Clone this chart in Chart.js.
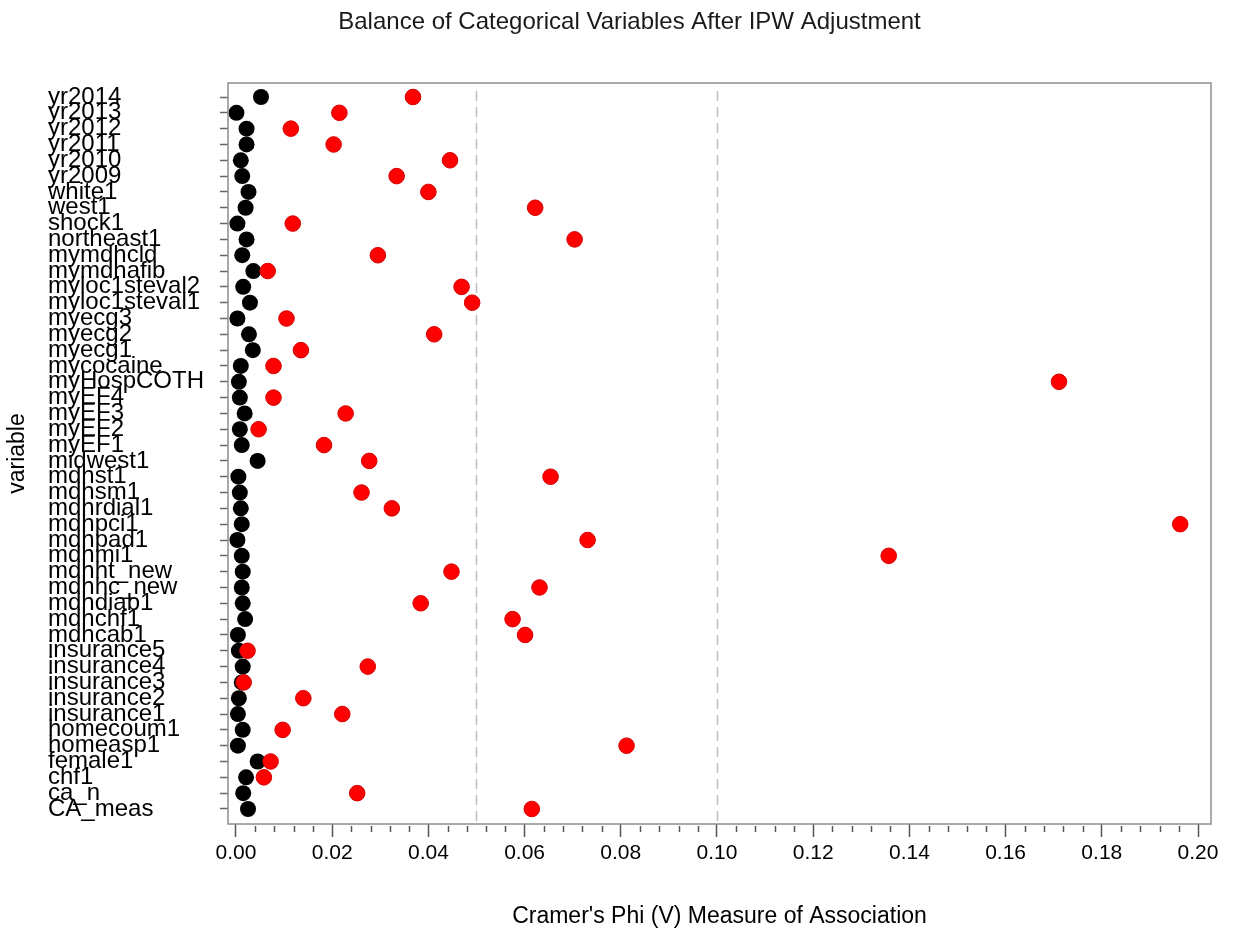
<!DOCTYPE html>
<html>
<head>
<meta charset="utf-8">
<title>Balance of Categorical Variables After IPW Adjustment</title>
<script src="https://cdn.jsdelivr.net/npm/chart.js@4/dist/chart.umd.min.js"></script>
<style>
  html, body { margin: 0; padding: 0; background: #fff; }
  #wrap { width: 1239px; height: 940px; }
</style>
</head>
<body>
<div id="wrap"><canvas id="chart" width="1239" height="940"></canvas></div>
<script>
// Variables, top to bottom
const variables = [
  'yr2014', 'yr2013', 'yr2012', 'yr2011', 'yr2010', 'yr2009', 'white1', 'west1',
  'shock1', 'northeast1', 'mymdhcld', 'mymdhafib', 'myloc1steval2', 'myloc1steval1',
  'myecg3', 'myecg2', 'myecg1', 'mycocaine', 'myHospCOTH', 'myEF4', 'myEF3', 'myEF2',
  'myEF1', 'midwest1', 'mdhst1', 'mdhsm1', 'mdhrdial1', 'mdhpci1', 'mdhpad1', 'mdhmi1',
  'mdhht_new', 'mdhhc_new', 'mdhdiab1', 'mdhchf1', 'mdhcab1', 'insurance5', 'insurance4',
  'insurance3', 'insurance2', 'insurance1', 'homecoum1', 'homeasp1', 'female1', 'chf1',
  'ca_n', 'CA_meas'
];

// Cramer's V after IPW weighting (black dots)
const afterIPW = [
  0.0052, 0.0001, 0.0022, 0.0022, 0.0010, 0.0013, 0.0026, 0.0020,
  0.0003, 0.0022, 0.0013, 0.0036, 0.0015, 0.0029,
  0.0003, 0.0027, 0.0035, 0.0010, 0.0006, 0.0008, 0.0018, 0.0008,
  0.0012, 0.0045, 0.0005, 0.0008, 0.0010, 0.0012, 0.0003, 0.0012,
  0.0014, 0.0012, 0.0014, 0.0019, 0.0004, 0.0006, 0.0014,
  0.0012, 0.0006, 0.0004, 0.0014, 0.0004, 0.0045, 0.0021,
  0.0015, 0.0025
];

// Cramer's V before adjustment (red dots)
const beforeIPW = [
  0.0368, 0.0215, 0.0114, 0.0203, 0.0445, 0.0334, 0.0400, 0.0622,
  0.0118, 0.0704, 0.0295, 0.0066, 0.0469, 0.0491,
  0.0105, 0.0412, 0.0135, 0.0078, 0.1711, 0.0078, 0.0228, 0.0047,
  0.0183, 0.0277, 0.0654, 0.0261, 0.0324, 0.1963, 0.0731, 0.1357,
  0.0448, 0.0631, 0.0384, 0.0575, 0.0601, 0.0024, 0.0274,
  0.0016, 0.0140, 0.0221, 0.0097, 0.0812, 0.0072, 0.0058,
  0.0252, 0.0615
];

// Axis ticks and reference thresholds
const xTicks = [0, 0.02, 0.04, 0.06, 0.08, 0.10, 0.12, 0.14, 0.16, 0.18, 0.20];
const minorPerStep = 4;
const refLines = [0.05, 0.10];

const FONT = '"Liberation Sans", Arial, Helvetica, sans-serif';
Chart.defaults.font.family = FONT;
Chart.defaults.color = '#000';

const toPoints = values => values.map((v, i) => ({ x: v, y: i }));

// Box, dashed thresholds, minor ticks and the rotated y title
const decorations = {
  id: 'decorations',
  beforeDatasetsDraw(chart) {
    const { ctx, chartArea: a, scales: { x } } = chart;
    ctx.save();
    ctx.strokeStyle = '#bfbfbf';
    ctx.lineWidth = 1.5;
    ctx.setLineDash([10, 6]);
    refLines.forEach(v => {
      const px = Math.round(x.getPixelForValue(v)) + 0.5;
      ctx.beginPath();
      ctx.moveTo(px, a.top + 8);
      ctx.lineTo(px, a.bottom);
      ctx.stroke();
    });
    ctx.restore();
  },
  afterDraw(chart) {
    const { ctx, chartArea: a, scales: { x } } = chart;
    ctx.save();

    // minor ticks between the labelled ones
    ctx.strokeStyle = '#555';
    ctx.lineWidth = 1.5;
    for (let i = 0; i < xTicks.length - 1; i++) {
      const step = (xTicks[i + 1] - xTicks[i]) / (minorPerStep + 1);
      for (let k = 1; k <= minorPerStep; k++) {
        const px = Math.round(x.getPixelForValue(xTicks[i] + k * step)) + 0.5;
        ctx.beginPath();
        ctx.moveTo(px, a.bottom + 2);
        ctx.lineTo(px, a.bottom + 8);
        ctx.stroke();
      }
    }

    // frame
    ctx.strokeStyle = '#8f8f8f';
    ctx.lineWidth = 1.5;
    ctx.strokeRect(a.left, a.top, a.right - a.left, a.bottom - a.top);

    // y axis title
    ctx.fillStyle = '#000';
    ctx.font = '23px ' + FONT;
    ctx.textAlign = 'center';
    ctx.textBaseline = 'middle';
    ctx.translate(18, (a.top + a.bottom) / 2);
    ctx.rotate(-Math.PI / 2);
    ctx.fillText('variable', 0, 0);
    ctx.restore();
  }
};

new Chart(document.getElementById('chart'), {
  type: 'scatter',
  data: {
    datasets: [
      {
        label: 'Before',
        data: toPoints(beforeIPW),
        backgroundColor: '#ff0000',
        borderColor: '#d40000',
        borderWidth: 1,
        pointRadius: 7.8,
        order: 0,
      },
      {
        label: 'After IPW',
        data: toPoints(afterIPW),
        backgroundColor: '#000',
        borderColor: '#000',
        borderWidth: 0,
        pointRadius: 8,
        order: 1,
      },
    ],
  },
  options: {
    responsive: false,
    devicePixelRatio: 1,
    animation: false,
    layout: { padding: { left: 48, right: 28, top: 0, bottom: 0 } },
    plugins: {
      legend: { display: false },
      tooltip: { enabled: false },
      title: {
        display: true,
        text: 'Balance of Categorical Variables After IPW Adjustment',
        color: '#1a1a1a',
        font: { size: 24, weight: 'normal', lineHeight: 1.2 },
        padding: { top: 8, bottom: 46.2 },
      },
    },
    scales: {
      x: {
        type: 'linear',
        min: -0.00166,
        max: 0.2027,
        afterBuildTicks: scale => { scale.ticks = xTicks.map(v => ({ value: v })); },
        afterFit: scale => { scale.height = 116; },
        grid: {
          display: true,
          drawOnChartArea: false,
          drawTicks: true,
          tickLength: 13,
          tickColor: '#555',
          tickWidth: 1.5,
        },
        border: { display: false },
        ticks: {
          padding: 4,
          color: '#000',
          font: { size: 21 },
          maxRotation: 0,
          autoSkip: false,
          callback: v => Number(v).toFixed(2),
        },
        title: {
          display: true,
          text: "Cramer's Phi (V) Measure of Association",
          color: '#000',
          font: { size: 23, lineHeight: 1.2 },
          padding: { top: 0, bottom: 10 },
        },
      },
      y: {
        type: 'linear',
        reverse: true,
        min: -0.885,
        max: 45.95,
        afterBuildTicks: scale => { scale.ticks = variables.map((_, i) => ({ value: i })); },
        afterFit: scale => { scale.width = 180; },
        grid: {
          display: true,
          drawOnChartArea: false,
          drawTicks: true,
          tickLength: 8,
          tickColor: '#666',
          tickWidth: 1.5,
        },
        border: { display: false },
        ticks: {
          crossAlign: 'far',
          autoSkip: false,
          color: '#000',
          font: { size: 24 },
          callback: v => variables[v] ?? '',
        },
      },
    },
  },
  plugins: [decorations],
});
</script>
</body>
</html>
